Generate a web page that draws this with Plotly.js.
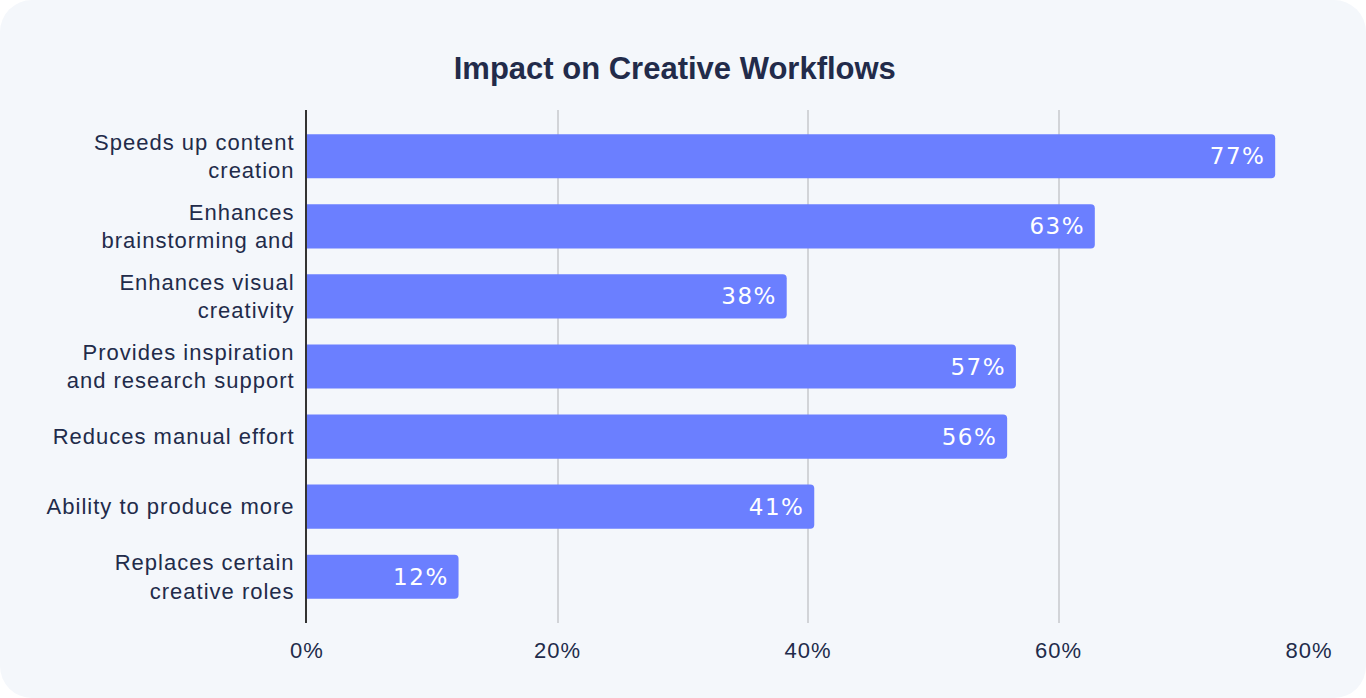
<!DOCTYPE html>
<html><head><meta charset="utf-8">
<script src="https://cdn.plot.ly/plotly-3.0.1.min.js"></script>
<style>
html,body{margin:0;padding:0;background:#ffffff;}
#card{position:absolute;left:0;top:0;width:1366px;height:698px;background:#f4f7fb;border-radius:32px;overflow:hidden;}
#chart{width:1366px;height:698px;}
#chart .ytick text, #chart .xtick text{letter-spacing:1px;}
#chart text.bartext{letter-spacing:1.5px;}
</style></head>
<body><div id="card"><div id="chart"></div></div>
<script>
const categories = [
  "Speeds up content<br>creation",
  "Enhances<br>brainstorming and",
  "Enhances visual<br>creativity",
  "Provides inspiration<br>and research support",
  "Reduces manual effort",
  "Ability to produce more",
  "Replaces certain<br>creative roles"
];
const values = [77.3, 62.9, 38.3, 56.6, 55.9, 40.5, 12.1];
const labels = ["77%", "63%", "38%", "57%", "56%", "41%", "12%"];
const tickVals = [0, 20, 40, 60, 80];
const tickText = ["0%", "20%", "40%", "60%", "80%"];

const trace = {
  type: 'bar', orientation: 'h',
  y: categories, x: values,
  text: labels.map(t => t + '\u00a0'),
  textposition: 'inside', insidetextanchor: 'end',
  textfont: {family: 'DejaVu Sans, Verdana, sans-serif', size: 23, color: '#ffffff'},
  marker: {color: '#6b7fff', cornerradius: 4},
  width: 0.63,
  hoverinfo: 'none'
};
const layout = {
  width: 1366, height: 698,
  paper_bgcolor: 'rgba(0,0,0,0)', plot_bgcolor: 'rgba(0,0,0,0)',
  margin: {l: 307, r: 57, t: 110, b: 75},
  title: {text: '<b>Impact on Creative Workflows</b>', x: 0.494, xanchor: 'center', y: 0.902, yanchor: 'middle',
          font: {family: 'Liberation Sans, Arial, sans-serif', size: 31, color: '#222b4a'}},
  showlegend: false,
  xaxis: {range: [0, 80], tickvals: tickVals, ticktext: tickText, showgrid: true, gridcolor: '#d2d4d8', gridwidth: 2,
          zeroline: false, showline: false, ticks: '', ticklabelstandoff: 12,
          tickfont: {family: 'Liberation Sans, Arial, sans-serif', size: 22, color: '#222b4a'}},
  yaxis: {autorange: false, range: [6.66, -0.66], type: 'category', showgrid: false, zeroline: false,
          showline: true, linecolor: '#333333', linewidth: 2, ticks: '', ticklabelstandoff: 6,
          tickfont: {family: 'Liberation Sans, Arial, sans-serif', size: 22, color: '#222b4a'}}
};
Plotly.newPlot('chart', [trace], layout, {displayModeBar: false, staticPlot: true});
</script></body></html>
